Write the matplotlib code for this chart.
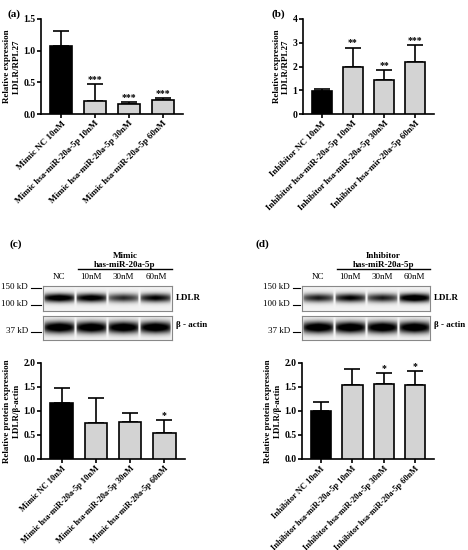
import numpy as np
import matplotlib
matplotlib.use("Agg")
import matplotlib.pyplot as plt

plt.rcParams['font.family'] = ['Liberation Serif', 'DejaVu Serif']
plt.rcParams['font.weight'] = 'bold'

cats_a = ["Mimic NC 10nM", "Mimic hsa-miR-20a-5p 10nM", "Mimic hsa-miR-20a-5p 30nM", "Mimic hsa-miR-20a-5p 60nM"]
vals_a = [1.07, 0.20, 0.16, 0.22]
err_a = [0.24, 0.28, 0.03, 0.03]
sig_a = ["", "***", "***", "***"]

cats_b = ["Inhibitor NC 10nM", "Inhibitor hsa-miR-20a-5p 10nM", "Inhibitor hsa-miR-20a-5p 30nM", "Inhibitor hsa-mir-20a-5p 60nM"]
vals_b = [0.98, 1.97, 1.44, 2.20]
err_b = [0.08, 0.83, 0.42, 0.70]
sig_b = ["", "**", "**", "***"]

cats_c = ["Mimic NC 10nM", "Mimic hsa-miR-20a-5p 10nM", "Mimic hsa-miR-20a-5p 30nM", "Mimic hsa-miR-20a-5p 60nM"]
vals_c = [1.16, 0.76, 0.77, 0.55]
err_c = [0.31, 0.51, 0.18, 0.26]
sig_c = ["", "", "", "*"]

cats_d = ["Inhibitor NC 10nM", "Inhibitor hsa-miR-20a-5p 10nM", "Inhibitor hsa-miR-20a-5p 30nM", "Inhibitor hsa-miR-20a-5p 60nM"]
vals_d = [0.99, 1.54, 1.57, 1.55]
err_d = [0.19, 0.33, 0.22, 0.29]
sig_d = ["", "", "*", "*"]

lanes = ["NC", "10nM", "30nM", "60nM"]
ldlr_c = [0.95, 0.9, 0.65, 0.8]
actin_c = [1.0, 1.0, 1.0, 1.0]
ldlr_d = [0.7, 0.8, 0.7, 1.0]
actin_d = [1.0, 1.0, 1.0, 1.0]

W, H = 468, 550
fig = plt.figure(figsize=(4.68, 5.5), dpi=100)

def ax_px(x0, y0, x1, y1):
    return fig.add_axes([x0 / W, 1 - y1 / H, (x1 - x0) / W, (y1 - y0) / H])

def bars(ax, cats, vals, errs, sigs, ymax, yticks, fmt, ylabel, xfs=6.5):
    x = np.arange(len(cats))
    cols = ['black'] + ['#d3d3d3'] * (len(cats) - 1)
    ax.bar(x, vals, width=0.65, color=cols, edgecolor='black', linewidth=1.2, zorder=3)
    ax.errorbar(x, vals, yerr=[np.zeros(len(vals)), errs], fmt='none', ecolor='black',
                elinewidth=1.2, capsize=6, capthick=1.2, zorder=2)
    for xi, v, e, s in zip(x, vals, errs, sigs):
        if s:
            ax.text(xi, v + e, s, ha='center', va='bottom', fontsize=7)
    ax.set_ylim(0, ymax)
    ax.set_xlim(-0.6, len(cats) - 0.4)
    ax.set_yticks(yticks)
    ax.set_yticklabels([fmt.format(t) for t in yticks], fontsize=7, fontweight='bold')
    ax.set_xticks(x)
    ax.set_xticklabels(cats, rotation=45, ha='right', rotation_mode='anchor', fontsize=xfs, fontweight='bold')
    ax.set_ylabel(ylabel, fontsize=6.5, fontweight='bold', labelpad=2)
    for s in ['top', 'right']:
        ax.spines[s].set_visible(False)
    for s in ['left', 'bottom']:
        ax.spines[s].set_linewidth(1.2)
    ax.tick_params(width=1.2, length=3, pad=1)

a = ax_px(41, 19, 183, 114)
bars(a, cats_a, vals_a, err_a, sig_a, 1.5, [0, 0.5, 1.0, 1.5], "{:.1f}", "Relative expression\nLDLR/RPL27")
b = ax_px(303, 19, 434, 114)
bars(b, cats_b, vals_b, err_b, sig_b, 4, [0, 1, 2, 3, 4], "{:.0f}", "Relative expression\nLDLR/RPL27")
c = ax_px(41, 363, 185, 459)
bars(c, cats_c, vals_c, err_c, sig_c, 2.0, [0, 0.5, 1.0, 1.5, 2.0], "{:.1f}", "Relative protein expression\nLDLR/β-actin", 6)
d = ax_px(302, 363, 434, 459)
bars(d, cats_d, vals_d, err_d, sig_d, 2.0, [0, 0.5, 1.0, 1.5, 2.0], "{:.1f}", "Relative protein expression\nLDLR/β-actin", 6)

fig.text(8 / W, 1 - 14 / H, "(a)", fontsize=8, fontweight='bold', va='center')
fig.text(272 / W, 1 - 14 / H, "(b)", fontsize=8, fontweight='bold', va='center')
fig.text(10 / W, 1 - 244 / H, "(c)", fontsize=8, fontweight='bold', va='center')
fig.text(256 / W, 1 - 244 / H, "(d)", fontsize=8, fontweight='bold', va='center')

def blot(x0, x1, ldlr, actin, title, kdx):
    yy = np.linspace(-1, 1, 40)
    xx = np.linspace(0, len(lanes), 200)
    for (y0, y1, inten, width) in [(286, 311, ldlr, 0.25), (316, 340, actin, 0.35)]:
        ax = ax_px(x0, y0, x1, y1)
        img = np.zeros((len(yy), len(xx)))
        for i, v in enumerate(inten):
            lane = np.clip(1 - np.abs(xx - (i + 0.5)) / 0.47, 0, 1) ** 0.2
            img += v * np.outer(np.exp(-(yy + 0.05) ** 2 / (2 * width ** 2)), lane)
        ax.imshow(0.95 - 0.95 * np.clip(img * 1.3, 0, 1), cmap='gray', vmin=0, vmax=1, aspect='auto',
                  extent=[0, len(lanes), -1, 1])
        ax.set_xticks([]); ax.set_yticks([])
        for s in ax.spines.values():
            s.set_color('#888888'); s.set_linewidth(0.8)
    fs = 6.5
    for i, l in enumerate(lanes):
        fig.text((x0 + (x1 - x0) * (i + 0.5) / len(lanes)) / W, 1 - 277 / H, l, ha='center', va='center', fontsize=fs, fontweight='normal')
    lx0 = x0 + (x1 - x0) * 0.27
    fig.text((lx0 + x1) / 2 / W, 1 - 256 / H, title, ha='center', va='center', fontsize=fs)
    fig.text((lx0 + x1) / 2 / W, 1 - 265 / H, "has-miR-20a-5p", ha='center', va='center', fontsize=fs)
    fig.add_artist(plt.Line2D([lx0 / W, x1 / W], [1 - 269 / H] * 2, color='black', lw=1))
    for lab, y in [("150 kD", 287), ("100 kD", 304), ("37 kD", 331)]:
        fig.text(kdx / W, 1 - y / H, lab, ha='right', va='center', fontsize=fs, fontweight='normal')
        fig.add_artist(plt.Line2D([(kdx + 3) / W, (x0 - 2) / W], [1 - (y + 1) / H] * 2, color='black', lw=0.8))
    fig.text((x1 + 4) / W, 1 - 298 / H, "LDLR", va='center', fontsize=fs)
    fig.text((x1 + 4) / W, 1 - 325 / H, "β - actin", va='center', fontsize=fs)

blot(43, 172, ldlr_c, actin_c, "Mimic", 28)
blot(302, 430, ldlr_d, actin_d, "Inhibitor", 290)

fig.savefig("out.png", dpi=100, facecolor='white')
